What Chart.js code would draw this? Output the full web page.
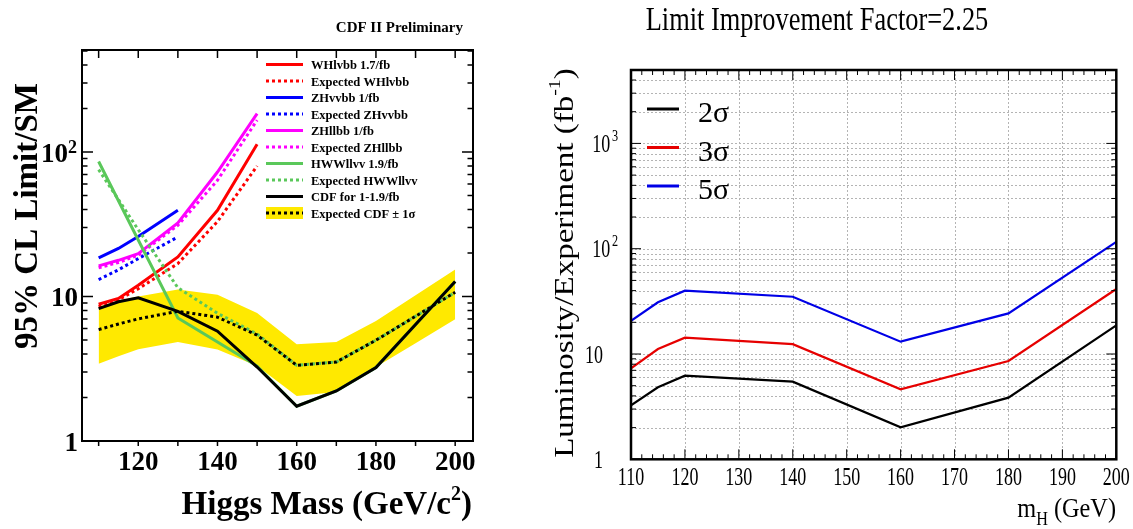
<!DOCTYPE html>
<html>
<head>
<meta charset="utf-8">
<script src="https://cdn.jsdelivr.net/npm/chart.js@4.4.1/dist/chart.umd.min.js"></script>
<style>
  html, body { margin: 0; padding: 0; background: #fff; }
  #wrap { position: relative; width: 1133px; height: 529px; overflow: hidden; }
  canvas { position: absolute; top: 0; }
  #limits { left: 0; }
  #lumi { left: 540px; }
</style>
</head>
<body>
<div id="wrap">
  <canvas id="limits" width="540" height="529"></canvas>
  <canvas id="lumi" width="593" height="529"></canvas>
</div>
<script>
// ---- left plot: 95% CL limit / SM vs Higgs mass ----
const whMass   = [110, 115, 120, 130, 140, 150];
const whObs    = [8.83, 9.7, 11.95, 18.8, 39.5, 113];
const whExp    = [8.5, 9.5, 11.3, 16.9, 33, 80];

const zhvvMass = [110, 115, 120, 130];
const zhvvObs  = [18.5, 21.5, 26, 39.5];
const zhvvExp  = [13.1, 15.3, 18.3, 25.8];

const zhllMass = [110, 115, 120, 130, 140, 150];
const zhllObs  = [16.3, 17.8, 19.8, 32.3, 72.7, 184.5];
const zhllExp  = [15.8, 17.2, 19.3, 31.1, 63.7, 166];

const hwwMass  = [110, 120, 130, 140, 150, 160, 170, 180, 190, 200];
const hwwObs   = [86, 24.6, 7.1, 4.84, 3.3, 1.74, 2.22, 3.22, 6.4, 12.7];
const hwwExp   = [75.5, 29, 11.5, 7.65, 5.5, 3.34, 3.52, 4.98, 7.3, 10.7];

const cdfMass  = [110, 115, 120, 130, 140, 150, 160, 170, 180, 190, 200];
const cdfObs   = [8.25, 9.2, 9.8, 7.9, 5.75, 3.25, 1.74, 2.22, 3.22, 6.4, 12.7];
const cdfExp   = [5.9, 6.45, 7.0, 7.9, 7.2, 5.4, 3.34, 3.52, 4.98, 7.3, 10.7];
const cdfHi    = [8.5, 9.4, 10.0, 11.2, 10.3, 7.7, 4.67, 4.84, 6.77, 10.2, 15.4];
const cdfLo    = [3.43, 3.86, 4.31, 4.84, 4.29, 3.3, 2.05, 2.18, 3.25, 4.75, 6.95];

const leftXTicks  = [110, 120, 130, 140, 150, 160, 170, 180, 190, 200];
const leftXLabels = [120, 140, 160, 180, 200];
const leftYLabels = [1, 10, 100];

// ---- right plot: luminosity needed per experiment ----
const lumiMass = [110, 115, 120, 140, 160, 180, 200];
const lumi2s   = [3.26, 4.83, 6.22, 5.46, 2.01, 3.85, 18.7];
const lumi3s   = [7.3, 11.15, 14.3, 12.4, 4.62, 8.58, 41.4];
const lumi5s   = [20.6, 31, 39.9, 35, 13.1, 24.3, 116];

const rightXLabels = [110, 120, 130, 140, 150, 160, 170, 180, 190, 200];
const rightYLabels = [1, 10, 100, 1000];

const pts = (xs, ys) => xs.map((m, i) => ({ x: m, y: ys[i] }));

function logValues(min, max) {
  const out = [];
  for (let d = 1; d <= max; d *= 10)
    for (let k = 1; k <= 9; k++) {
      const v = k * d;
      if (v >= min && v <= max) out.push(v);
    }
  return out;
}
const isDecade = v => Math.abs(Math.log10(v) - Math.round(Math.log10(v))) < 1e-9;

// draws a run of text pieces (for super/subscripts), optionally squeezed horizontally
function drawRun(ctx, pieces, x, y, align, sx = 1) {
  ctx.save();
  ctx.translate(x, y);
  ctx.scale(sx, 1);
  let total = 0;
  pieces.forEach(p => { ctx.font = p.font; p.w = ctx.measureText(p.t).width; total += p.w; });
  let cur = align === 'right' ? -total : align === 'center' ? -total / 2 : 0;
  ctx.textAlign = 'left';
  pieces.forEach(p => { ctx.font = p.font; ctx.fillText(p.t, cur, p.dy || 0); cur += p.w; });
  ctx.restore();
}

const BOLD = s => `bold ${s}px "Liberation Serif"`;
const SERIF = s => `${s}px "Liberation Serif"`;

const limitDecor = {
  id: 'limitDecor',
  afterDraw(chart) {
    const { ctx, chartArea: a, scales: { x, y } } = chart;
    ctx.save();
    ctx.strokeStyle = '#000';
    ctx.fillStyle = '#000';
    ctx.lineWidth = 2;
    ctx.strokeRect(a.left, a.top, a.right - a.left, a.bottom - a.top);

    ctx.lineWidth = 1.5;
    ctx.beginPath();
    leftXTicks.forEach(m => {
      const px = x.getPixelForValue(m);
      ctx.moveTo(px, a.bottom); ctx.lineTo(px, a.bottom + 5);
      ctx.moveTo(px, a.top); ctx.lineTo(px, a.top + 8);
    });
    logValues(1, y.max).forEach(v => {
      const py = y.getPixelForValue(v);
      const len = isDecade(v) ? 11 : 5.5;
      ctx.moveTo(a.left, py); ctx.lineTo(a.left + len, py);
      ctx.moveTo(a.right, py); ctx.lineTo(a.right - len, py);
    });
    ctx.stroke();

    // tick labels
    ctx.textBaseline = 'alphabetic';
    ctx.textAlign = 'center';
    ctx.font = BOLD(27);
    leftXLabels.forEach(m => ctx.fillText(String(m), x.getPixelForValue(m), 470));
    leftYLabels.forEach(v => {
      const py = y.getPixelForValue(v) + 10;
      const e = Math.round(Math.log10(v));
      if (e >= 2) {
        drawRun(ctx, [{ t: '10', font: BOLD(27) }, { t: String(e), font: BOLD(18), dy: -9 }], 77, py, 'right');
      } else {
        drawRun(ctx, [{ t: e === 0 ? '1' : '10', font: BOLD(27) }], 78, py, 'right');
      }
    });

    // titles
    drawRun(ctx, [{ t: 'CDF II Preliminary', font: BOLD(15) }], 463, 32, 'right');
    drawRun(ctx, [
      { t: 'Higgs Mass (GeV/c', font: BOLD(33) },
      { t: '2', font: BOLD(20), dy: -14 },
      { t: ')', font: BOLD(33) }
    ], 472, 514, 'right');
    ctx.save();
    ctx.translate(37, 216);
    ctx.rotate(-Math.PI / 2);
    drawRun(ctx, [{ t: '95% CL Limit/SM', font: BOLD(33) }], 0, 0, 'center');
    ctx.restore();

    // legend
    const rows = chart.data.datasets.filter(d => d.label);
    rows.forEach((d, i) => {
      const ry = 64.5 + i * 16.5;
      if (d.band) {
        ctx.fillStyle = '#ffe900';
        ctx.fillRect(266, ry - 6, 37, 12);
      }
      ctx.save();
      ctx.strokeStyle = d.borderColor;
      ctx.lineWidth = 3;
      ctx.setLineDash(d.borderDash || []);
      ctx.beginPath();
      ctx.moveTo(266, ry); ctx.lineTo(303, ry);
      ctx.stroke();
      ctx.restore();
      ctx.fillStyle = '#000';
      drawRun(ctx, [{ t: d.label, font: BOLD(12.5) }], 311, ry + 4.5, 'left');
    });
    ctx.restore();
  }
};

const DOT = [3, 3];
new Chart(document.getElementById('limits'), {
  type: 'line',
  data: {
    datasets: [
      { label: 'WHlvbb 1.7/fb', data: pts(whMass, whObs), borderColor: '#ff0000', order: 4 },
      { label: 'Expected WHlvbb', data: pts(whMass, whExp), borderColor: '#ff0000', borderDash: DOT, order: 5 },
      { label: 'ZHvvbb 1/fb', data: pts(zhvvMass, zhvvObs), borderColor: '#0000ff', order: 8 },
      { label: 'Expected ZHvvbb', data: pts(zhvvMass, zhvvExp), borderColor: '#0000ff', borderDash: DOT, order: 9 },
      { label: 'ZHllbb 1/fb', data: pts(zhllMass, zhllObs), borderColor: '#ff00ff', order: 6 },
      { label: 'Expected ZHllbb', data: pts(zhllMass, zhllExp), borderColor: '#ff00ff', borderDash: DOT, order: 7 },
      { label: 'HWWllvv 1.9/fb', data: pts(hwwMass, hwwObs), borderColor: '#5ac85a', order: 2 },
      { label: 'Expected HWWllvv', data: pts(hwwMass, hwwExp), borderColor: '#5ac85a', borderDash: DOT, order: 3 },
      { label: 'CDF for 1-1.9/fb', data: pts(cdfMass, cdfObs), borderColor: '#000000', order: 0 },
      { label: 'Expected CDF \u00b1 1\u03c3', data: pts(cdfMass, cdfExp), borderColor: '#000000', borderDash: DOT, order: 1, band: true },
      { label: '', data: pts(cdfMass, cdfHi), borderColor: 'transparent', borderWidth: 0, backgroundColor: '#ffe900', fill: '+1', order: 20 },
      { label: '', data: pts(cdfMass, cdfLo), borderColor: 'transparent', borderWidth: 0, fill: false, order: 21 }
    ]
  },
  options: {
    responsive: false,
    animation: false,
    devicePixelRatio: 1,
    layout: { padding: { left: 0, right: 67, top: 50, bottom: 0 } },
    elements: { point: { radius: 0 }, line: { tension: 0, borderWidth: 3 } },
    plugins: { legend: { display: false }, tooltip: { enabled: false } },
    scales: {
      x: {
        type: 'linear', min: 105.8, max: 204.5,
        ticks: { display: false }, grid: { display: false }, border: { display: false },
        afterFit(s) { s.height = 88; }
      },
      y: {
        type: 'logarithmic', min: 1, max: 508,
        ticks: { display: false }, grid: { display: false }, border: { display: false },
        afterFit(s) { s.width = 82; }
      }
    }
  },
  plugins: [limitDecor]
});

// ---- right plot decorations ----
const lumiDecor = {
  id: 'lumiDecor',
  beforeDatasetsDraw(chart) {
    const { ctx, chartArea: a, scales: { x, y } } = chart;
    ctx.save();
    ctx.strokeStyle = '#b4b4b4';
    ctx.lineWidth = 1;
    ctx.setLineDash([2, 2]);
    ctx.beginPath();
    rightXLabels.forEach(m => {
      const px = Math.round(x.getPixelForValue(m)) + 0.5;
      ctx.moveTo(px, a.top); ctx.lineTo(px, a.bottom);
    });
    logValues(2, y.max).forEach(v => {
      const py = Math.round(y.getPixelForValue(v)) + 0.5;
      ctx.moveTo(a.left, py); ctx.lineTo(a.right, py);
    });
    ctx.stroke();
    ctx.restore();
  },
  afterDraw(chart) {
    const { ctx, chartArea: a, scales: { x, y } } = chart;
    ctx.save();
    ctx.strokeStyle = '#000';
    ctx.fillStyle = '#000';
    ctx.lineWidth = 1;
    ctx.beginPath();
    for (let m = x.min; m <= x.max; m += 2) {
      const px = x.getPixelForValue(m);
      const len = (m - x.min) % 10 === 0 ? 10 : 5;
      ctx.moveTo(px, a.bottom); ctx.lineTo(px, a.bottom - len);
      ctx.moveTo(px, a.top); ctx.lineTo(px, a.top + len);
    }
    logValues(1, y.max).forEach(v => {
      const py = y.getPixelForValue(v);
      const len = isDecade(v) ? 10 : 5;
      ctx.moveTo(a.left, py); ctx.lineTo(a.left + len, py);
      ctx.moveTo(a.right, py); ctx.lineTo(a.right - len, py);
    });
    ctx.stroke();
    ctx.lineWidth = 2.5;
    ctx.strokeRect(a.left, a.top, a.right - a.left, a.bottom - a.top);

    ctx.textBaseline = 'alphabetic';
    rightXLabels.forEach(m => drawRun(ctx, [{ t: String(m), font: SERIF(25) }], x.getPixelForValue(m), 485, 'center', 0.72));
    rightYLabels.forEach(v => {
      const py = y.getPixelForValue(v) + 8.5;
      const e = Math.round(Math.log10(v));
      if (e >= 2) {
        drawRun(ctx, [
          { t: '10', font: SERIF(25) },
          { t: ' ', font: SERIF(9) },
          { t: String(e), font: SERIF(17), dy: -11 }
        ], 78, py, 'right', 0.72);
      } else {
        drawRun(ctx, [{ t: e === 0 ? '1' : '10', font: SERIF(25) }], 63, py, 'right', 0.72);
      }
    });

    drawRun(ctx, [{ t: 'Limit Improvement Factor=2.25', font: SERIF(33) }], 277, 30, 'center', 0.8);
    drawRun(ctx, [
      { t: 'm', font: SERIF(27) },
      { t: 'H', font: SERIF(18), dy: 8 },
      { t: ' (GeV)', font: SERIF(27) }
    ], 576, 517, 'right', 0.9);

    ctx.save();
    ctx.translate(26, 263);
    ctx.scale(0.84, 1);
    ctx.rotate(-Math.PI / 2);
    ctx.textBaseline = 'middle';
    drawRun(ctx, [
      { t: 'Luminosity/Experiment (fb', font: SERIF(33) },
      { t: '-1', font: SERIF(20), dy: -12 },
      { t: ')', font: SERIF(33) }
    ], 0, 0, 'center');
    ctx.restore();

    // legend
    chart.data.datasets.forEach((d, i) => {
      const ry = 109 + i * 38.5;
      ctx.save();
      ctx.strokeStyle = d.borderColor;
      ctx.lineWidth = 3;
      ctx.beginPath();
      ctx.moveTo(107, ry); ctx.lineTo(139, ry);
      ctx.stroke();
      ctx.restore();
      drawRun(ctx, [{ t: d.label, font: SERIF(30) }], 158, ry + 13, 'left');
    });
    ctx.restore();
  }
};

new Chart(document.getElementById('lumi'), {
  type: 'line',
  data: {
    datasets: [
      { label: '2\u03c3', data: pts(lumiMass, lumi2s), borderColor: '#000000' },
      { label: '3\u03c3', data: pts(lumiMass, lumi3s), borderColor: '#e60000' },
      { label: '5\u03c3', data: pts(lumiMass, lumi5s), borderColor: '#0000e6' }
    ]
  },
  options: {
    responsive: false,
    animation: false,
    devicePixelRatio: 1,
    layout: { padding: { left: 0, right: 16.7, top: 70, bottom: 0 } },
    elements: { point: { radius: 0 }, line: { tension: 0, borderWidth: 2.2 } },
    plugins: { legend: { display: false }, tooltip: { enabled: false } },
    scales: {
      x: {
        type: 'linear', min: 110, max: 200,
        ticks: { display: false }, grid: { display: false }, border: { display: false },
        afterFit(s) { s.height = 69.7; }
      },
      y: {
        type: 'logarithmic', min: 1, max: 4980,
        ticks: { display: false }, grid: { display: false }, border: { display: false },
        afterFit(s) { s.width = 91; }
      }
    }
  },
  plugins: [lumiDecor]
});
</script>
</body>
</html>
